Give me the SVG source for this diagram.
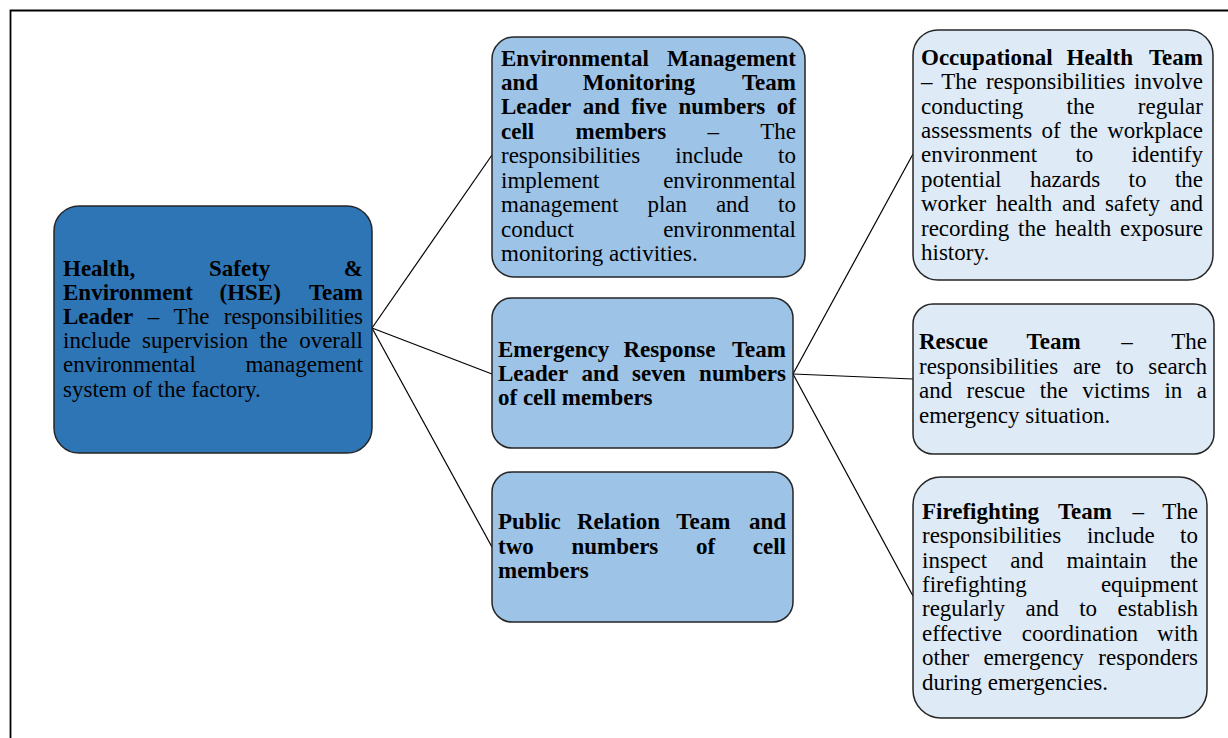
<svg xmlns="http://www.w3.org/2000/svg" width="1228" height="738" viewBox="0 0 1228 738">
<style>
text{font-family:"Liberation Serif","Times New Roman",serif;font-size:23px;fill:#000}
.b{font-weight:bold}
.r{text-anchor:end}
.box{stroke:#262626;stroke-width:1.5}
.dk{fill:#2E75B6}
.md{fill:#9DC3E6}
.lt{fill:#DEEBF7}
.c{stroke:#000;stroke-width:1.2;fill:none}
</style>
<rect width="1228" height="738" fill="#fff"/>
<path d="M10.5,740 V10.5 H1230" fill="none" stroke="#000" stroke-width="1.8"/>
<g id="connectors">
<line class="c" x1="372" y1="328" x2="492" y2="155"/>
<line class="c" x1="372" y1="328" x2="492" y2="374"/>
<line class="c" x1="372" y1="328" x2="492" y2="547"/>
<line class="c" x1="793" y1="374" x2="913" y2="154"/>
<line class="c" x1="793" y1="374" x2="913" y2="379"/>
<line class="c" x1="793" y1="374" x2="913" y2="596"/>
</g>
<g id="hse">
<rect class="box dk" x="54" y="206" width="318" height="247" rx="25"/>
<text y="276" class="b"><tspan x="63">Health,</tspan><tspan x="209">Safety</tspan></text><text x="363" y="276" class="b r">&amp;</text>
<text y="300" class="b"><tspan x="63">Environment</tspan><tspan x="219.5">(HSE)</tspan></text><text x="363" y="300" class="b r">Team</text>
<text y="324"><tspan x="63" class="b">Leader</tspan><tspan x="147.7">–</tspan><tspan x="173.6">The</tspan></text><text x="363" y="324" class="r">responsibilities</text>
<text y="348"><tspan x="63">include</tspan><tspan x="142.1">supervision</tspan><tspan x="259.6">the</tspan></text><text x="363" y="348" class="r">overall</text>
<text x="63" y="372">environmental</text><text x="363" y="372" class="r">management</text>
<text x="63" y="397">system of the factory.</text>
</g>
<g id="emm">
<rect class="box md" x="492" y="37" width="313" height="240" rx="22"/>
<text x="501" y="66" class="b">Environmental</text><text x="796" y="66" class="b r">Management</text>
<text y="90" class="b"><tspan x="501">and</tspan><tspan x="582.7">Monitoring</tspan></text><text x="796" y="90" class="b r">Team</text>
<text y="114" class="b"><tspan x="501">Leader</tspan><tspan x="582.7">and</tspan><tspan x="631.2">five</tspan><tspan x="678.4">numbers</tspan></text><text x="796" y="114" class="b r">of</text>
<text y="139"><tspan x="501" class="b">cell</tspan><tspan x="575.5" class="b">members</tspan><tspan x="707.5">–</tspan></text><text x="796" y="139" class="r">The</text>
<text y="163"><tspan x="501">responsibilities</tspan><tspan x="675.3">include</tspan></text><text x="796" y="163" class="r">to</text>
<text x="501" y="188">implement</text><text x="796" y="188" class="r">environmental</text>
<text y="212"><tspan x="501">management</tspan><tspan x="647.4">plan</tspan><tspan x="715.9">and</tspan></text><text x="796" y="212" class="r">to</text>
<text x="501" y="237">conduct</text><text x="796" y="237" class="r">environmental</text>
<text x="501" y="261">monitoring activities.</text>
</g>
<g id="er">
<rect class="box md" x="492" y="298" width="301" height="150" rx="20"/>
<text y="357" class="b"><tspan x="498">Emergency</tspan><tspan x="623.5">Response</tspan></text><text x="786" y="357" class="b r">Team</text>
<text y="381" class="b"><tspan x="498">Leader</tspan><tspan x="581.6">and</tspan><tspan x="632">seven</tspan></text><text x="786" y="381" class="b r">numbers</text>
<text x="498" y="405" class="b">of cell members</text>
</g>
<g id="pr">
<rect class="box md" x="492" y="472" width="301" height="150" rx="20"/>
<text y="529" class="b"><tspan x="498">Public</tspan><tspan x="576.9">Relation</tspan><tspan x="676.3">Team</tspan></text><text x="786" y="529" class="b r">and</text>
<text y="554" class="b"><tspan x="498">two</tspan><tspan x="571.4">numbers</tspan><tspan x="695.9">of</tspan></text><text x="786" y="554" class="b r">cell</text>
<text x="498" y="578" class="b">members</text>
</g>
<g id="oh">
<rect class="box lt" x="913" y="30" width="300" height="250" rx="25"/>
<text y="65" class="b"><tspan x="921">Occupational</tspan><tspan x="1066.5">Health</tspan></text><text x="1203" y="65" class="b r">Team</text>
<text y="89"><tspan x="921">–</tspan><tspan x="941.3">The</tspan><tspan x="985.9">responsibilities</tspan></text><text x="1203" y="89" class="r">involve</text>
<text y="114"><tspan x="921">conducting</tspan><tspan x="1066.5">the</tspan></text><text x="1203" y="114" class="r">regular</text>
<text y="138"><tspan x="921">assessments</tspan><tspan x="1041.4">of</tspan><tspan x="1069.8">the</tspan></text><text x="1203" y="138" class="r">workplace</text>
<text y="162"><tspan x="921">environment</tspan><tspan x="1075.4">to</tspan></text><text x="1203" y="162" class="r">identify</text>
<text y="187"><tspan x="921">potential</tspan><tspan x="1029.9">hazards</tspan><tspan x="1128.5">to</tspan></text><text x="1203" y="187" class="r">the</text>
<text y="211"><tspan x="921">worker</tspan><tspan x="996">health</tspan><tspan x="1062">and</tspan><tspan x="1105.1">safety</tspan></text><text x="1203" y="211" class="r">and</text>
<text y="236"><tspan x="921">recording</tspan><tspan x="1018">the</tspan><tspan x="1055">health</tspan></text><text x="1203" y="236" class="r">exposure</text>
<text x="921" y="260">history.</text>
</g>
<g id="rescue">
<rect class="box lt" x="913" y="304" width="301" height="150" rx="20"/>
<text y="349"><tspan x="919" class="b">Rescue</tspan><tspan x="1026.5" class="b">Team</tspan><tspan x="1121.2">–</tspan></text><text x="1207" y="349" class="r">The</text>
<text y="374"><tspan x="919">responsibilities</tspan><tspan x="1073">are</tspan><tspan x="1115.8">to</tspan></text><text x="1207" y="374" class="r">search</text>
<text y="398"><tspan x="919">and</tspan><tspan x="966.6">rescue</tspan><tspan x="1039.8">the</tspan><tspan x="1082.3">victims</tspan><tspan x="1164.4">in</tspan></text><text x="1207" y="398" class="r">a</text>
<text x="919" y="423">emergency situation.</text>
</g>
<g id="ff">
<rect class="box lt" x="913" y="477" width="294" height="241" rx="28"/>
<text y="519"><tspan x="922" class="b">Firefighting</tspan><tspan x="1057.9" class="b">Team</tspan><tspan x="1132.4">–</tspan></text><text x="1198" y="519" class="r">The</text>
<text y="543"><tspan x="922">responsibilities</tspan><tspan x="1086.9">include</tspan></text><text x="1198" y="543" class="r">to</text>
<text y="568"><tspan x="922">inspect</tspan><tspan x="1010.2">and</tspan><tspan x="1066.4">maintain</tspan></text><text x="1198" y="568" class="r">the</text>
<text x="922" y="592">firefighting</text><text x="1198" y="592" class="r">equipment</text>
<text y="616"><tspan x="922">regularly</tspan><tspan x="1025.5">and</tspan><tspan x="1079.2">to</tspan></text><text x="1198" y="616" class="r">establish</text>
<text y="641"><tspan x="922">effective</tspan><tspan x="1021.7">coordination</tspan></text><text x="1198" y="641" class="r">with</text>
<text y="665"><tspan x="922">other</tspan><tspan x="983.4">emergency</tspan></text><text x="1198" y="665" class="r">responders</text>
<text x="922" y="690">during emergencies.</text>
</g>
</svg>
